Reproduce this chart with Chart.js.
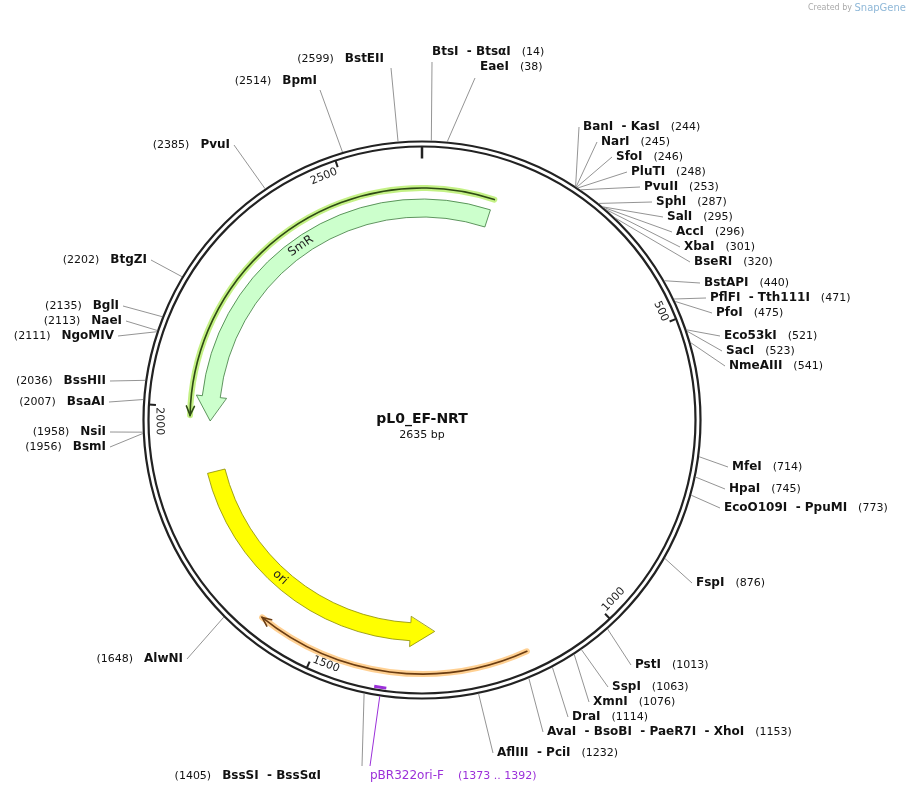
<!DOCTYPE html>
<html><head><meta charset="utf-8">
<script src="https://cdn.jsdelivr.net/npm/chart.js@4/dist/chart.umd.min.js"></script>
<style>html,body{margin:0;background:#fff}canvas{display:block}</style>
</head><body>
<canvas id="map" width="913" height="794"></canvas>
<script>
/* ─── PLASMID DATA ─── */
const plasmidName = 'pL0_EF-NRT';
const plasmidLength = 2635;
const enzymeNames = ['BtsI  - BtsαI','EaeI','BanI  - KasI','NarI','SfoI','PluTI','PvuII','SphI','SalI','AccI','XbaI','BseRI',
  'BstAPI','PflFI  - Tth111I','PfoI','Eco53kI','SacI','NmeAIII','MfeI','HpaI','EcoO109I  - PpuMI','FspI','PstI','SspI','XmnI','DraI',
  'AvaI  - BsoBI  - PaeR7I  - XhoI','AflIII  - PciI','BssSI  - BssSαI','AlwNI','BsmI','NsiI','BsaAI','BssHII','NgoMIV','NaeI','BglI',
  'BtgZI','PvuI','BpmI','BstEII'];
const enzymeSites = [14,38,244,245,246,248,253,287,295,296,301,320,440,471,475,521,523,541,714,745,773,876,1013,1063,1076,1114,
  1153,1232,1405,1648,1956,1958,2007,2036,2111,2113,2135,2202,2385,2514,2599];
const tickValues = [500,1000,1500,2000,2500];
const featureNames = ['SmR','ori'];
const featureStarts = [1975,1293];
const featureEnds = [2767,1874];
const primerName = 'pBR322ori-F';
const primerRange = [1373,1392];

/* ─── LAYOUT (label anchors: side, text x, text y, optional line end) ─── */
const labelLayout = [
  ['R',432,52,432,62],['R',480,67,475,78],['R',583,127],['R',601,142],['R',616,157],['R',631,172],['R',644,187],['R',656,202],
  ['R',667,217],['R',676,232],['R',684,247],['R',694,262],['R',704,283],['R',710,298],['R',716,313],['R',724,336],['R',726,351],
  ['R',729,366],['R',732,467],['R',729,489],['R',724,508],['R',696,583],['R',635,665],['R',612,687],['R',593,702],['R',572,717],
  ['R',547,732],['R',497,753],['L',321,776,362,766],['L',183,659],['L',106,447],['L',106,432],['L',105,402],['L',106,381],
  ['L',114,336],['L',122,321],['L',119,306],['L',147,260],['L',230,145],['L',317,81,320,90],['L',384,59,391,68]
];
const CX = 422, CY = 420, R_OUT = 278.5, R_IN = 273.5;

const mapPlugin = {
  id: 'plasmidMap',
  afterDraw(chart) {
    const ctx = chart.ctx, xs = chart.scales.x, ys = chart.scales.y;
    const X = v => xs.getPixelForValue(v), Y = v => ys.getPixelForValue(v);
    const cx = X(CX), cy = Y(CY);
    const ang = p => p / plasmidLength * 2 * Math.PI - Math.PI / 2;
    const pt = (p, r) => [cx + r * Math.cos(ang(p)), cy + r * Math.sin(ang(p))];
    const bpPerPx = r => plasmidLength / (2 * Math.PI * r);
    ctx.save();

    // backbone
    ctx.strokeStyle = '#222'; ctx.lineWidth = 2.2;
    [R_OUT, R_IN].forEach(r => { ctx.beginPath(); ctx.arc(cx, cy, r, 0, 2 * Math.PI); ctx.stroke(); });
    ctx.lineWidth = 2.5;
    let a = pt(0, R_IN - 12), b = pt(0, R_IN);
    ctx.beginPath(); ctx.moveTo(a[0], a[1]); ctx.lineTo(b[0], b[1]); ctx.stroke();

    // ticks: label sits on the counter-clockwise side of its tick
    ctx.font = '11px "DejaVu Sans"'; ctx.fillStyle = '#222'; ctx.textAlign = 'center'; ctx.textBaseline = 'middle';
    tickValues.forEach(t => {
      a = pt(t, R_IN - 7); b = pt(t, R_IN);
      ctx.lineWidth = 2; ctx.beginPath(); ctx.moveTo(a[0], a[1]); ctx.lineTo(b[0], b[1]); ctx.stroke();
      const w = ctx.measureText(String(t)).width;
      const rr = R_IN - 11;
      const pc = t - (w / 2 + 2) * bpPerPx(rr);
      const th = pc / plasmidLength * 360;
      let rot = th <= 90 ? th : (th <= 285 ? th - 180 : th - 360);
      const tp = pt(pc, rr);
      ctx.save(); ctx.translate(tp[0], tp[1]); ctx.rotate(rot * Math.PI / 180);
      ctx.fillText(String(t), 0, 0); ctx.restore();
    });

    // thin annotation arcs with halo
    function thinArc(p0, p1, r, halo, line, headAtEnd) {
      ctx.lineCap = 'round';
      ctx.strokeStyle = halo; ctx.lineWidth = 6;
      ctx.beginPath(); ctx.arc(cx, cy, r, ang(p0), ang(p1)); ctx.stroke();
      ctx.strokeStyle = line; ctx.lineWidth = 1.6;
      ctx.beginPath(); ctx.arc(cx, cy, r, ang(p0), ang(p1)); ctx.stroke();
      const tip = headAtEnd ? p1 : p0, dir = headAtEnd ? -1 : 1;
      const back = tip + dir * 9 * bpPerPx(r);
      const t0 = pt(tip, r), b1 = pt(back, r - 4), b2 = pt(back, r + 4);
      ctx.beginPath(); ctx.moveTo(b1[0], b1[1]); ctx.lineTo(t0[0], t0[1]); ctx.lineTo(b2[0], b2[1]); ctx.stroke();
    }
    thinArc(1985, 2768, 232, 'rgba(190,240,120,0.9)', '#2e4a14', false);
    thinArc(1139, 1603, 254, 'rgba(255,205,140,0.95)', '#6b3d12', true);

    // thick feature arrows (reverse strand: head at start)
    function featureArrow(p0, p1, rIn, rOut, fill, stroke) {
      const rm = (rIn + rOut) / 2, h = 24 / rm;
      const a0 = ang(p0), a1 = ang(p1), ab = a0 + h;
      const P = (aa, r) => [cx + r * Math.cos(aa), cy + r * Math.sin(aa)];
      ctx.beginPath();
      let q = P(a0, rm); ctx.moveTo(q[0], q[1]);
      q = P(ab, rOut + 6); ctx.lineTo(q[0], q[1]);
      q = P(ab, rOut); ctx.lineTo(q[0], q[1]);
      ctx.arc(cx, cy, rOut, ab, a1);
      q = P(a1, rIn); ctx.lineTo(q[0], q[1]);
      ctx.arc(cx, cy, rIn, a1, ab, true);
      q = P(ab, rIn - 6); ctx.lineTo(q[0], q[1]);
      ctx.closePath();
      ctx.fillStyle = fill; ctx.fill();
      ctx.strokeStyle = stroke; ctx.lineWidth = 0.8; ctx.stroke();
    }
    featureArrow(featureStarts[0], featureEnds[0], 203, 221, '#ccffcc', '#3a7a3a');
    featureArrow(featureStarts[1], featureEnds[1], 203, 221, '#ffff00', '#8a8a00');
    ctx.fillStyle = '#222'; ctx.font = '12px "DejaVu Sans"';
    [[2380, 'SmR'], [1625, 'ori']].forEach(([p], i) => {
      const tp = pt(p, 212), th = p / plasmidLength * 360;
      ctx.save(); ctx.translate(tp[0], tp[1]);
      ctx.rotate(((i === 0 ? th - 360 : th - 180)) * Math.PI / 180);
      ctx.fillText(featureNames[i], 0, 0); ctx.restore();
    });

    // primer
    ctx.strokeStyle = '#9b30d9'; ctx.lineWidth = 3; ctx.lineCap = 'butt';
    ctx.beginPath(); ctx.arc(cx, cy, R_IN - 3, ang(primerRange[0]), ang(primerRange[1])); ctx.stroke();
    ctx.lineWidth = 1;
    a = pt((primerRange[0] + primerRange[1]) / 2, R_IN);
    ctx.beginPath(); ctx.moveTo(a[0], a[1] + 6); ctx.lineTo(X(370), Y(766)); ctx.stroke();
    ctx.fillStyle = '#9b30d9'; ctx.textAlign = 'left';
    ctx.font = '12px "DejaVu Sans"'; ctx.fillText(primerName, X(370), Y(776));
    ctx.font = '11px "DejaVu Sans"';
    ctx.fillText('(' + primerRange[0] + ' .. ' + primerRange[1] + ')', X(458), Y(776));

    // enzyme labels
    enzymeNames.forEach((nm, i) => {
      const [side, tx, ty, lx, ly] = labelLayout[i];
      const num = '(' + enzymeSites[i] + ')';
      ctx.font = 'bold 12px "DejaVu Sans"';
      const w = ctx.measureText(nm).width;
      const c = pt(enzymeSites[i], R_OUT + 1);
      const ex = lx !== undefined ? lx : (side === 'R' ? tx - 4 : tx + 4);
      const ey = ly !== undefined ? ly : ty;
      ctx.strokeStyle = '#888'; ctx.lineWidth = 0.9;
      ctx.beginPath(); ctx.moveTo(c[0], c[1]); ctx.lineTo(X(ex), Y(ey)); ctx.stroke();
      ctx.fillStyle = '#111'; ctx.textBaseline = 'middle';
      if (side === 'R') {
        ctx.textAlign = 'left'; ctx.fillText(nm, X(tx), Y(ty));
        ctx.font = '11px "DejaVu Sans"'; ctx.fillText(num, X(tx) + w + 11, Y(ty));
      } else {
        ctx.textAlign = 'right'; ctx.fillText(nm, X(tx), Y(ty));
        ctx.font = '11px "DejaVu Sans"'; ctx.fillText(num, X(tx) - w - 11, Y(ty));
      }
    });

    // centre title
    ctx.fillStyle = '#111'; ctx.textAlign = 'center';
    ctx.font = 'bold 14px "DejaVu Sans"'; ctx.fillText(plasmidName, cx, Y(419));
    ctx.font = '11px "DejaVu Sans"'; ctx.fillText(plasmidLength + ' bp', cx, Y(435));
    ctx.fillStyle = '#aaa'; ctx.textAlign = 'right'; ctx.font = '8px "DejaVu Sans"';
    ctx.fillText('Created by', X(852), Y(8));
    ctx.fillStyle = '#8fb8d8'; ctx.font = '10px "DejaVu Sans"'; ctx.fillText('SnapGene', X(906), Y(8));
    ctx.restore();
  }
};

new Chart(document.getElementById('map'), {
  type: 'scatter',
  data: { datasets: [{ data: [], pointRadius: 0 }] },
  options: {
    responsive: false, animation: false,
    layout: { padding: 0 },
    plugins: { legend: { display: false }, tooltip: { enabled: false } },
    scales: {
      x: { type: 'linear', min: 0, max: 913, display: false },
      y: { type: 'linear', min: 0, max: 794, reverse: true, display: false }
    }
  },
  plugins: [mapPlugin]
});
</script>
</body></html>
